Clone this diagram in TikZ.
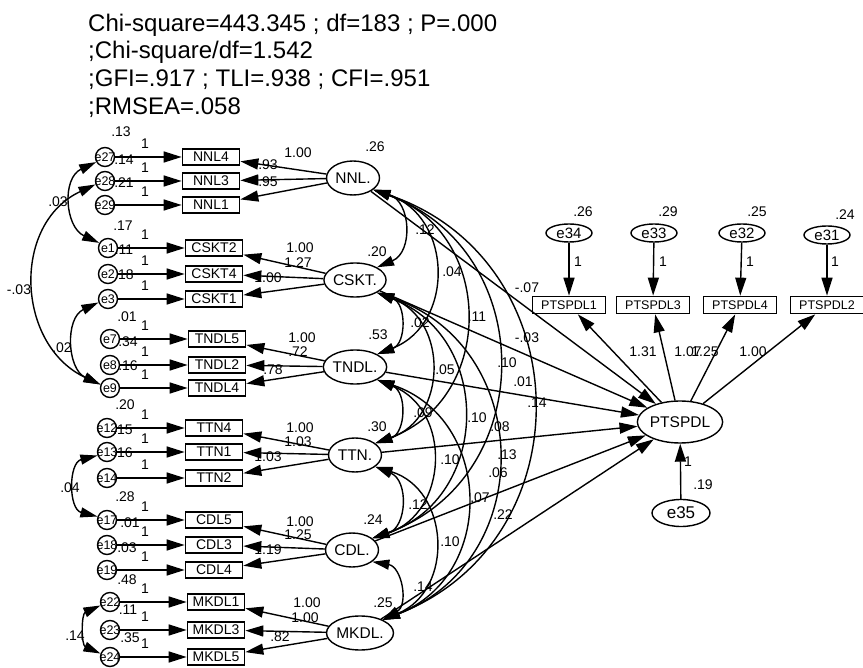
\documentclass[tikz,border=0pt]{standalone}
\usepackage{fontspec}
\setmainfont{Liberation Sans}
\usetikzlibrary{arrows.meta,shapes.geometric}
\newcommand{\myfs}[1]{\fontsize{#1}{#1}\selectfont}
\begin{document}
\begin{tikzpicture}[x=1pt,y=1pt,
  arr/.style={line width=1.4pt,-{Triangle[length=18pt,width=11pt]}},
  dbl/.style={line width=1.4pt,{Triangle[length=17pt,width=10pt]}-{Triangle[length=17pt,width=10pt]}},
  errc/.style={circle,draw,line width=1.4pt,minimum size=19pt,inner sep=0pt},
  errt/.style={inner sep=0pt,font=\myfs{12.5}},
  obs/.style={rectangle,draw,line width=1.7pt,minimum width=57pt,minimum height=16pt,inner sep=1pt,font=\myfs{14}},
  obs2/.style={rectangle,draw,line width=1.7pt,minimum width=73pt,minimum height=17pt,inner sep=1pt,font=\myfs{12.5}},
  lat/.style={ellipse,draw,line width=1.4pt,minimum width=53pt,minimum height=34pt,inner sep=0pt,font=\myfs{15.5}},
  erre/.style={ellipse,draw,line width=1.4pt,minimum width=46pt,minimum height=18pt,inner sep=0pt,font=\myfs{15}},
  num/.style={inner sep=0pt,font=\myfs{14}},
  head/.style={anchor=base west,inner sep=0pt,font=\myfs{24}},
]
\useasboundingbox (0,0) rectangle (863,-668);

% header
\node[head] (h1) at (88,-31.5) {Chi-square=443.345 ; df=183 ; P=.000};
\node[head] (h2) at (88,-59) {;Chi-square/df=1.542};
\node[head] (h3) at (88,-87) {;GFI=.917 ; TLI=.938 ; CFI=.951};
\node[head] (h4) at (88,-115) {;RMSEA=.058};

% left indicators
\foreach \id/\y/\bt/\ex/\bx in {
 27/157/NNL4/105/211, 28/181/NNL3/105/211, 29/205/NNL1/105/211,
 1/248/CSKT2/108/214, 2/274/CSKT4/108/214, 3/299/CSKT1/108/214,
 7/339/TNDL5/110/217, 8/365/TNDL2/110/217, 9/388/TNDL4/110/217,
 12/428/TTN4/107/214, 13/452/TTN1/107/214, 14/478/TTN2/107/214,
 17/520/CDL5/107/214, 18/545/CDL3/107/214, 19/570/CDL4/107/214,
 22/602/MKDL1/110/216, 23/630/MKDL3/110/216, 24/657/MKDL5/110/216}
{
 \node[errc] (e\id) at (\ex,-\y) {};
 \node[errt] (te\id) at (\ex,-\y) {e\id};
 \node[obs] (o\bt) at (\bx,-\y) {\bt};
 \draw[arr] (e\id) -- (o\bt);
 \node[num] (one\id) at (145,-\y+13) {1};
}

% error variances
\foreach \t/\x/\y [count=\i] in {.13/121/132, .14/124/160, .21/124/183, .17/123/226,
 .11/124/250, .18/124/275, .01/127/317, .34/128/342, .16/128/366, .20/125/405,
 .15/123/430, .16/123/453, .28/125/497, .01/130/523, .03/127/548, .48/127/580,
 .11/128/610, .35/130/638}
 \node[num] (v\i) at (\x,-\y) {\t};

% left covariances
\draw[dbl] (e27.210) to[out=205,in=155,distance=38] (e1.150);
\draw[dbl] (e28.200) to[out=205,in=155,distance=93] (e9.160);
\draw[dbl] (e3.200) to[out=205,in=155,distance=37] (e9.160);
\draw[dbl] (e13.200) to[out=194,in=166,distance=30] (e17.160);
\draw[dbl] (e22.200) to[out=204,in=156,distance=21] (e24.160);
\node[num] (c1) at (58,-202) {.03};
\node[num] (c2) at (19,-290) {-.03};
\node[num] (c3) at (62,-348) {.02};
\node[num] (c4) at (70,-488) {.04};
\node[num] (c5) at (75,-636) {.14};

% latents
\node[lat] (nnl) at (353,-178) {NNL.};
\node[lat] (cskt) at (355,-280) {CSKT.};
\node[lat] (tndl) at (355,-367) {TNDL.};
\node[lat] (ttn) at (355,-455) {TTN.};
\node[lat] (cdl) at (352,-550) {CDL.};
\node[lat,minimum width=56pt] (mkdl) at (360,-633) {MKDL.};

% loadings
\foreach \l/\a/\b/\c in {nnl/NNL4/NNL3/NNL1, cskt/CSKT2/CSKT4/CSKT1, tndl/TNDL5/TNDL2/TNDL4,
 ttn/TTN4/TTN1/TTN2, cdl/CDL5/CDL3/CDL4, mkdl/MKDL1/MKDL3/MKDL5}
{
 \draw[arr] (\l) -- (o\a);
 \draw[arr] (\l) -- (o\b);
 \draw[arr] (\l) -- (o\c);
}
\foreach \t/\x/\y [count=\i] in {1.00/298/153, .93/268/165, .95/268/182,
 1.00/300/248, 1.27/298/263, 1.00/268/278,
 1.00/302/338, .72/298/352, .78/273/370,
 1.00/300/428, 1.03/298/442, 1.03/268/457,
 1.00/300/522, 1.25/298/535, 1.19/268/550,
 1.00/307/603, 1.00/305/618, .82/280/637}
 \node[num] (ld\i) at (\x,-\y) {\t};

% latent variances
\foreach \t/\x/\y [count=\i] in {.26/375/147, .20/377/252, .53/378/335, .30/377/427, .24/373/520, .25/383/603}
 \node[num] (lv\i) at (\x,-\y) {\t};

% latent covariances
\foreach \a/\b in {nnl/cskt, nnl/tndl, nnl/ttn, nnl/cdl, nnl/mkdl,
 cskt/tndl, cskt/ttn, cskt/cdl, cskt/mkdl,
 tndl/ttn, tndl/cdl, tndl/mkdl,
 ttn/cdl, ttn/mkdl, cdl/mkdl}
 \draw[dbl] (\a.-30) to[bend left=70,looseness=1.3] (\b.30);

% PTSPDL part
\node[lat,minimum width=76pt,minimum height=42pt] (pts) at (680,-422) {PTSPDL};
\node[lat,minimum width=58pt,minimum height=27pt,font=\myfs{17}] (e35) at (681,-513) {e35};
\node[erre] (e34) at (569,-233) {e34};
\node[erre] (e33) at (654,-233) {e33};
\node[erre] (e32) at (742,-233) {e32};
\node[erre] (e31) at (827,-235) {e31};
\node[obs2] (p1) at (569,-305) {PTSPDL1};
\node[obs2] (p3) at (653,-305) {PTSPDL3};
\node[obs2] (p4) at (740,-305) {PTSPDL4};
\node[obs2] (p2) at (827,-305) {PTSPDL2};
\draw[arr] (e34) -- (p1);
\draw[arr] (e33) -- (p3);
\draw[arr] (e32) -- (p4);
\draw[arr] (e31) -- (p2);
\draw[arr] (pts) -- (p1);
\draw[arr] (pts) -- (p3);
\draw[arr] (pts) -- (p4);
\draw[arr] (pts) -- (p2);
\draw[arr] (e35) -- (pts);
\foreach \a in {nnl,cskt,tndl,ttn,cdl,mkdl}
 \draw[arr] (\a) -- (pts);

\foreach \t/\x/\y [count=\i] in {.26/583/212, .29/668/212, .25/757/212, .24/845/215,
 1/578/262, 1/663/262, 1/750/262, 1/835/262,
 1.31/643/352, 1.07/688/352, 1.25/705/352, 1.00/753/352,
 1/688/462, .19/703/485}
 \node[num] (r\i) at (\x,-\y) {\t};

% structural and covariance labels
\foreach \t/\x/\y [count=\i] in {.12/425/230, .04/452/272, .11/477/317, -.07/527/288,
 .02/420/323, -.03/527/338, .10/507/363, .05/445/370, .01/523/382, .14/537/403,
 .09/423/413, .10/477/418, .08/500/427, .10/450/460, .13/507/455, .06/498/473,
 .07/480/498, .22/503/515, .12/418/505, .10/450/542, .14/423/587}
 \node[num] (m\i) at (\x,-\y) {\t};
\end{tikzpicture}
\end{document}
